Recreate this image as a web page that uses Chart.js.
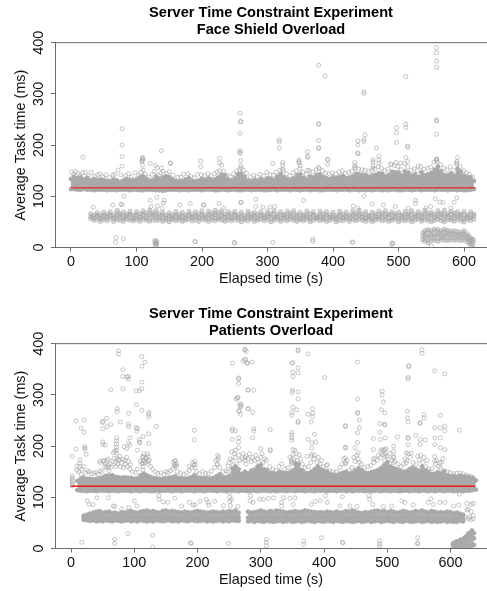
<!DOCTYPE html>
<html><head><meta charset="utf-8">
<style>html,body{margin:0;padding:0;background:#fff}#a,#b{position:absolute;left:0;width:487px;height:290px}#a{top:0}#b{top:301px}</style>
<script src="https://cdn.jsdelivr.net/npm/chart.js@4"></script></head>
<body><div id="a"><canvas id="c1"></canvas></div><div id="b"><canvas id="c2"></canvas></div>
<script>
// Values are estimated by eye. The densest clouds cannot be read point by point, so they are
// stored as band outlines (time, solid top, bottom);
// fringe and isolated points are stored individually.
const yTicks=[0,100,200,300,400];
const xLabel='Elapsed time (s)', yLabel='Average Task time (ms)';
const titles1=['Server Time Constraint Experiment','Face Shield Overload'];
const titles2=['Server Time Constraint Experiment','Patients Overload'];
const meanX1=[0,617], meanY1=[116.7,116.7];
const meanX2=[0,639], meanY2=[121.5,121.5];

const time1=[0,5,10,15,20,25,30,35,40,45,50,55,60,65,70,75,80,85,90,95,100,105,110,115,120,125,130,135,140,145,150,155,160,165,170,175,180,185,190,195,200,205,210,215,220,225,230,235,240,245,250,255,260,265,270,275,280,285,290,295,300,305,310,315,320,325,330,335,340,345,350,355,360,365,370,375,380,385,390,395,400,405,410,415,420,425,430,435,440,445,450,455,460,465,470,475,480,485,490,495,500,505,510,515,520,525,530,535,540,545,550,555,560,565,570,575,580,585,590,595,600,605,610,615];
const hiMid1=[134,138,135,137,133,136,131,134,132,133,132,130,129,133,131,128,131,134,132,131,133,137,139,134,130,132,138,134,137,139,137,133,130,129,130,133,135,130,129,131,134,132,135,132,133,137,142,141,133,130,135,143,144,138,131,129,132,130,134,131,135,134,132,138,143,137,134,132,135,141,143,136,133,139,137,142,143,138,135,134,137,135,138,140,135,137,139,144,143,142,141,138,141,142,145,144,139,142,148,147,146,141,149,146,140,143,138,147,141,143,146,152,158,149,142,141,145,140,154,148,140,137,137,130];
const hiBot1=[114,114,113,113,114,113,113,112,113,113,113,112,113,113,112,113,113,113,112,113,113,112,112,113,113,113,112,112,111,112,113,113,113,112,113,113,112,113,113,113,112,113,113,113,112,112,113,113,112,113,113,112,112,113,113,112,113,113,113,112,112,113,113,112,113,113,113,112,113,113,112,113,113,112,113,113,112,112,113,113,113,112,113,113,113,112,113,113,112,113,112,113,112,113,113,112,113,112,113,113,112,112,113,113,112,113,113,112,113,113,113,112,113,113,113,112,113,113,112,113,112,112,113,114];
const lowTime1=[30,35,40,45,50,55,60,65,70,75,80,85,90,95,100,105,110,115,120,125,130,135,140,145,150,155,160,165,170,175,180,185,190,195,200,205,210,215,220,225,230,235,240,245,250,255,260,265,270,275,280,285,290,295,300,305,310,315,320,325,330,335,340,345,350,355,360,365,370,375,380,385,390,395,400,405,410,415,420,425,430,435,440,445,450,455,460,465,470,475,480,485,490,495,500,505,510,515,520,525,530,535,540,545,550,555,560,565,570,575,580,585,590,595,600,605,610,615];
const loTop1=[66,63,68,64,69,65,70,64,71,66,69,65,71,64,70,66,72,67,73,68,72,66,69,63,68,64,70,65,69,64,71,65,70,66,72,64,71,67,73,68,72,65,70,66,71,64,69,63,71,66,69,65,70,64,71,66,72,65,70,64,71,67,72,65,69,64,71,66,70,63,71,66,70,64,69,63,71,65,69,64,72,67,73,66,70,63,69,65,71,67,72,65,70,66,69,64,71,66,72,65,70,66,73,67,69,65,72,67,73,66,71,67,70,65,71,64,70,65];
const loMid1=[60,58,62,56,61,59,63,57,61,63,58,61,64,57,62,59,63,58,62,64,61,58,62,57,60,56,62,58,61,57,63,59,61,58,63,57,62,59,64,58,62,59,61,57,63,58,60,56,62,59,61,57,63,58,60,62,58,61,57,63,59,62,58,61,56,62,60,57,63,58,61,57,62,59,60,56,62,58,60,57,63,59,64,60,58,62,56,61,59,63,60,64,58,61,57,62,59,63,57,61,62,58,64,60,63,59,61,64,60,63,58,62,60,63,57,61,58,62];
const loBot1=[56,53,55,51,54,52,56,51,54,53,51,55,53,52,54,51,55,53,51,54,52,54,51,53,50,55,52,54,51,53,55,52,54,51,55,53,51,54,52,55,53,51,54,52,55,53,50,54,52,55,51,53,55,52,54,50,53,55,51,54,52,55,53,51,54,52,55,50,53,55,52,54,51,53,55,50,53,52,55,51,54,52,55,53,51,54,50,53,55,52,54,51,53,55,50,53,52,54,50,53,55,51,54,52,50,53,55,52,50,54,53,51,55,52,50,54,53,55];
const clusterTime1=[537,540,545,550,555,560,565,570,575,580,585,590,595,600,605,608,611,614];
const clTop1=[29,33,35,33,36,35,33,36,34,32,33,31,30,33,27,22,18,16];
const clMid1=[22,24,21,25,23,26,22,24,26,23,25,22,24,23,19,15,14,12];
const clBot1=[15,12,9,13,14,12,15,14,13,15,14,15,13,14,11,7,5,6];
const fringe1=[[1,147],[4,143],[7,148],[11,145],[14,141],[18,146],[22,147],[26,140],[31,147],[36,139],[41,142],[44,144],[49,138],[53,142],[59,137],[64,141],[67,143],[72,151],[76,142],[83,140],[88,144],[92,138],[98,146],[103,141],[107,147],[113,143],[118,138],[124,143],[127,148],[133,141],[137,146],[141,149],[146,144],[150,148],[156,141],[163,137],[168,138],[172,143],[178,144],[183,139],[188,136],[193,143],[199,142],[204,140],[209,144],[214,140],[219,144],[223,147],[227,150],[233,149],[238,141],[243,138],[248,144],[253,149],[257,152],[263,151],[268,145],[274,138],[279,141],[284,138],[289,143],[294,140],[299,147],[304,142],[309,141],[313,147],[319,151],[324,150],[329,144],[334,140],[339,146],[344,150],[349,154],[354,147],[359,143],[364,150],[369,148],[374,152],[379,154],[384,150],[389,145],[394,144],[399,146],[404,144],[409,148],[414,150],[419,145],[424,147],[429,149],[434,156],[439,153],[444,152],[449,151],[454,149],[459,151],[464,153],[469,158],[474,155],[479,150],[484,153],[489,162],[494,160],[499,158],[504,152],[509,164],[514,158],[519,150],[524,154],[529,150],[534,158],[539,153],[544,155],[549,157],[554,167],[559,168],[564,162],[569,155],[574,152],[579,158],[584,150],[589,163],[594,158],[599,150],[604,146],[608,143],[613,138]];
const points1=[[18,176],[78,232],[78,200],[78,178],[78,159],[109,176],[109,174],[110,172],[109,170],[108,168],[109,161],[110,151],[121,164],[129,160],[132,156],[138,189],[138,155],[152,165],[152,164],[198,169],[198,158],[227,174],[227,165],[230,161],[258,262],[259,247],[259,245],[258,223],[258,189],[258,186],[258,184],[259,170],[259,160],[260,155],[308,164],[318,210],[318,206],[318,194],[323,166],[323,161],[323,153],[348,171],[348,168],[348,165],[350,160],[361,187],[361,178],[361,176],[361,151],[378,356],[388,335],[378,242],[378,240],[378,209],[378,195],[378,193],[378,156],[392,172],[392,171],[392,162],[447,304],[447,301],[438,208],[438,200],[438,185],[438,183],[447,211],[447,207],[449,220],[433,166],[433,160],[433,155],[466,194],[461,171],[461,167],[461,160],[461,155],[470,178],[470,171],[470,165],[488,163],[496,166],[497,234],[497,224],[497,205],[511,241],[511,234],[511,334],[514,198],[514,196],[503,165],[511,176],[514,168],[558,390],[558,380],[558,364],[558,352],[558,249],[558,247],[558,221],[558,173],[558,172],[558,171],[590,176],[589,168],[588,165],[530,159],
[68,10],[69,19],[80,17],[81,100],[142,92],[121,92],[131,98],[141,87],[34,79],[64,83],[76,84],[78,84],[71,73],[122,80],[132,81],[139,77],[166,83],[182,86],[202,83],[203,83],[226,86],[233,77],[259,88],[447,100],[260,88],[282,94],[282,80],[293,79],[304,79],[311,80],[355,92],[431,81],[438,77],[460,85],[477,83],[495,80],[526,92],[526,86],[515,77],[556,95],[563,89],[568,88],[589,97],[585,88],[542,77],[549,80],[580,77],
[128,14],[129,12],[130,10],[128,9],[131,7],[129,6],[130,4],[131,12],[129,3],[189,12],[190,11],[249,10],[250,9],[308,10],[369,16],[369,12],[429,11],[430,10],[490,9],[491,8],[490,6],[550,3]];

const time2=[10,15,20,25,30,35,40,45,50,55,60,65,70,75,80,85,90,95,100,105,110,115,120,125,130,135,140,145,150,155,160,165,170,175,180,185,190,195,200,205,210,215,220,225,230,235,240,245,250,255,260,265,270,275,280,285,290,295,300,305,310,315,320,325,330,335,340,345,350,355,360,365,370,375,380,385,390,395,400,405,410,415,420,425,430,435,440,445,450,455,460,465,470,475,480,485,490,495,500,505,510,515,520,525,530,535,540,545,550,555,560,565,570,575,580,585,590,595,600,605,610,615,620,625,630,635,640];
const hiMid2=[132,136,138,136,136,135,136,137,139,142,142,143,140,139,138,139,138,138,136,137,143,146,143,140,138,137,136,136,137,138,139,141,137,137,136,137,139,143,138,137,138,137,137,138,141,145,140,139,141,156,160,155,146,150,147,152,154,160,163,155,153,148,147,146,150,148,147,148,152,166,165,153,148,147,150,155,160,155,152,151,145,144,143,146,148,150,146,148,153,157,153,148,147,149,151,153,157,163,168,160,157,155,152,150,151,155,158,155,152,160,153,150,145,146,149,147,150,143,141,141,140,142,141,140,139,137,133];
const hiBot2=[114,113,113,112,113,113,112,113,113,113,112,113,113,112,113,113,113,112,113,113,112,113,113,112,112,113,112,113,113,113,112,113,113,112,113,113,113,112,113,113,112,113,113,113,112,113,113,112,113,113,113,112,113,113,112,113,113,112,113,113,113,112,113,112,113,113,112,113,113,112,113,113,112,113,113,112,113,113,113,112,113,113,112,113,113,112,113,112,113,113,113,112,113,112,113,113,112,113,113,112,113,113,112,113,113,112,113,113,112,113,113,112,113,112,113,113,112,113,113,112,113,113,112,113,113,114,115];
const lowTime2=[20,25,30,35,40,45,50,55,60,65,70,75,80,85,90,95,100,105,110,115,120,125,130,135,140,145,150,155,160,165,170,175,180,185,190,195,200,205,210,215,220,225,230,235,240,245,250,255,260,265,270,275,280,285,290,295,300,305,310,315,320,325,330,335,340,345,350,355,360,365,370,375,380,385,390,395,400,405,410,415,420,425,430,435,440,445,450,455,460,465,470,475,480,485,490,495,500,505,510,515,520,525,530,535,540,545,550,555,560,565,570,575,580,585,590,595,600,605,610,615,620];
const loTop2=[64,66,68,70,72,73,70,71,72,69,70,68,71,70,72,73,71,70,72,73,74,72,73,71,70,73,74,72,73,72,71,70,72,71,70,72,73,72,71,70,71,72,71,70,72,71,73,72,74,70,null,null,72,70,71,72,74,72,71,73,72,74,73,72,70,71,72,73,71,72,74,73,72,71,70,71,70,72,71,70,72,70,71,73,72,74,72,70,69,71,70,72,73,74,72,73,71,73,72,70,71,73,72,70,71,73,72,74,72,71,73,72,70,71,70,72,71,69,70,68,66];
const loMid2=[60,62,59,61,63,60,62,59,61,60,62,59,61,60,62,61,59,61,60,62,59,61,62,60,59,61,63,60,62,61,59,60,62,60,61,59,60,62,61,60,59,61,62,60,59,61,62,60,62,61,null,null,60,62,59,61,60,62,59,61,60,62,61,59,62,60,61,59,60,62,61,59,60,62,61,59,61,60,62,59,60,61,62,60,59,61,60,59,61,62,60,59,62,60,61,59,62,60,61,59,60,62,59,61,60,62,59,61,60,62,59,61,60,58,60,59,57,60,58,60,59];
const loBot2=[56,55,54,55,53,54,53,55,54,53,55,54,53,54,55,53,54,53,55,54,53,54,53,55,54,53,54,55,53,54,53,55,54,53,55,54,53,54,55,53,54,53,54,55,53,54,53,55,54,54,null,null,53,54,52,54,53,52,54,53,52,53,54,52,53,54,52,53,54,52,53,54,53,52,54,53,52,54,53,52,54,53,52,54,53,52,53,54,52,53,54,52,53,54,52,53,54,53,52,54,53,52,54,53,52,53,54,52,53,54,52,53,52,53,54,52,53,52,52,54,53];
const clusterTime2=[604,607,610,613,616,619,622,625,628,631,634,637];
const clTop2=[10,12,14,14,17,17,21,24,29,31,35,30];
const clMid2=[8,9,9,10,11,12,13,15,17,19,22,20];
const clBot2=[5,6,5,6,5,6,5,6,5,6,6,7];
const fringe2=[[12,150],[14,160],[17,155],[20,160],[23,148],[26,152],[29,150],[32,146],[36,147],[40,148],[43,145],[46,152],[49,150],[53,160],[56,158],[59,162],[62,165],[66,170],[70,168],[73,176],[76,172],[78,160],[83,158],[86,165],[89,160],[93,155],[97,150],[102,148],[105,155],[110,170],[113,178],[116,172],[119,176],[122,165],[126,160],[129,155],[133,150],[137,147],[142,148],[147,145],[150,150],[153,148],[157,152],[161,156],[164,160],[168,150],[173,147],[178,145],[183,148],[187,152],[191,158],[194,163],[198,150],[203,146],[208,150],[213,147],[217,146],[222,151],[227,158],[231,165],[235,158],[240,150],[245,152],[250,168],[255,172],[260,178],[265,182],[270,175],[275,172],[280,176],[285,170],[290,172],[295,175],[300,178],[304,168],[309,172],[314,160],[319,155],[324,152],[329,160],[333,165],[338,155],[343,158],[348,170],[352,175],[356,185],[361,183],[366,165],[370,158],[375,160],[379,168],[384,175],[389,168],[394,165],[399,160],[404,162],[409,152],[414,150],[420,150],[425,158],[429,165],[434,165],[439,152],[444,158],[449,170],[454,175],[459,165],[464,158],[469,160],[474,162],[479,168],[484,172],[489,178],[493,183],[497,185],[502,175],[507,172],[512,170],[517,165],[522,160],[526,165],[531,172],[536,178],[541,168],[546,165],[551,173],[556,168],[561,160],[566,155],[571,156],[576,165],[581,160],[586,168],[590,152],[595,150],[600,148],[605,146],[610,147],[615,148],[620,146],[626,143],[632,141],[636,138],
[52,170],[54,166],[57,172],[60,152],[68,176],[71,160],[74,165],[77,180],[80,168],[85,172],[88,178],[91,170],[112,165],[115,185],[118,168],[121,185],[124,172],[162,168],[165,172],[167,165],[192,168],[196,158],[229,172],[233,178],[252,175],[256,162],[258,185],[262,165],[267,172],[272,185],[277,165],[282,185],[287,178],[292,182],[297,168],[302,185],[306,175],[346,178],[349,165],[354,192],[358,172],[363,175],[380,180],[385,182],[391,178],[396,172],[431,175],[436,172],[447,178],[452,182],[456,168],[480,176],[486,182],[490,190],[494,192],[498,195],[500,180],[504,186],[510,180],[528,175],[533,185],[538,186],[548,180],[553,182],[558,178],[563,172],[578,172],[583,168],[588,176]];
const points2=[[2,180],[8,249],[8,194],[2,142],[2,138],[2,134],[2,130],[2,126],[2,122],[21,251],[16,235],[21,227],[22,199],[22,196],[22,194],[24,184],[14,173],[14,166],[9,161],[9,153],[16,145],
[63,310],[75,386],[75,380],[82,349],[82,336],[88,335],[91,331],[91,336],[82,312],[73,268],[73,273],[91,264],[78,247],[91,243],[91,238],[63,242],[56,254],[50,248],[50,246],[50,234],[57,238],[103,308],[108,308],[112,312],[112,325],[112,356],[112,375],[117,364],[103,281],[112,270],[123,266],[123,262],[123,257],[135,238],[103,236],[105,234],[104,229],[123,224],[114,219],[108,213],[108,208],[123,205],[109,206],[105,192],[50,208],[50,203],[54,202],[72,216],[72,210],[72,204],[72,198],[72,192],[72,186],[67,187],[69,190],[84,199],[88,195],[93,216],[91,206],[93,202],[46,171],[46,168],[59,175],[59,158],[64,159],[52,172],[75,174],[82,174],[94,164],[114,180],[118,177],[122,180],[114,172],[122,170],[114,167],[114,160],[114,153],
[195,231],[195,212],[196,170],[196,164],[187,160],[164,171],[164,164],[167,161],[232,182],[232,174],[232,164],[255,362],[261,292],[263,294],[264,295],[265,333],[265,322],[265,331],[267,283],[267,278],[265,269],[266,268],[268,262],[275,388],[277,385],[272,366],[276,369],[278,362],[280,310],[280,273],[255,234],[255,230],[260,230],[255,213],[265,216],[265,208],[254,189],[260,192],[265,197],[275,177],[277,180],[248,161],[248,150],
[17,12],[69,18],[69,10],[90,29],[129,26],[129,3],[189,11],[190,10],[249,10],[41,99],[59,99],[100,93],[26,93],[29,86],[35,86],[67,83],[69,82],[80,77],[91,80],[104,83],[139,103],[139,96],[146,91],[153,90],[164,98],[175,83],[187,90],[193,85],[196,85],[204,92],[214,96],[217,90],[218,85],[227,92],[241,84],[251,109],[251,100],[251,92],[254,96],[252,84],[264,82],
[275,389],[275,369],[279,362],[286,364],[280,309],[289,309],[280,273],[287,266],[269,281],[269,277],[289,234],[289,229],[287,216],[300,195],[315,232],[315,193],[315,191],[349,362],[351,363],[359,388],[359,386],[375,380],[359,353],[359,343],[351,344],[351,336],[350,309],[350,305],[359,306],[359,292],[351,276],[357,271],[349,266],[349,260],[359,248],[359,246],[349,227],[349,222],[349,216],[349,211],[351,193],[351,184],[349,174],[349,168],[382,273],[382,264],[382,258],[375,262],[380,247],[401,334],[385,223],[375,213],[387,208],[381,206],[381,196],[381,184],[373,180],[405,164],[434,240],[434,238],[434,198],[434,196],[434,177],[434,168],[453,364],[453,292],[453,266],[453,264],[456,251],[456,236],[453,226],[453,207],[449,197],[454,187],[478,215],[478,193],[478,174],[492,307],[492,300],[494,286],[491,271],[496,265],[488,244],[496,243],[496,241],[488,227],[497,216],[489,213],[491,193],[496,193],[496,182],[496,172],[510,200],[510,190],[510,178],[510,168],[516,218],[534,357],[534,355],[533,334],[533,331],[532,268],[532,255],[533,247],[533,217],[533,215],[533,203],[530,187],[530,167],[555,388],[555,381],[575,347],[591,341],[558,262],[558,255],[552,246],[552,244],[545,221],[560,212],[552,213],[552,203],[584,260],[575,236],[584,236],[591,239],[591,230],[614,231],[575,216],[584,216],[575,203],[584,197],[591,193],[575,180],[575,171],[584,158],
[309,18],[309,12],[309,5],[368,15],[368,8],[396,21],[429,12],[430,11],[488,15],[488,9],[488,5],[548,21],[548,11],[548,9],
[284,103],[283,93],[288,90],[298,96],[304,96],[312,98],[320,99],[336,99],[333,90],[346,98],[354,99],[351,86],[333,83],[380,86],[386,92],[394,93],[402,103],[405,90],[429,101],[425,83],[441,83],[452,82],[471,103],[472,96],[477,86],[494,82],[507,83],[523,93],[528,90],[541,85],[569,97],[565,90],[573,86],[583,90],[591,90],[605,83],[613,85],[614,106],[626,88],[633,86],[628,77],[636,64],[630,62],[636,88],[626,75],[633,72],[624,60],[628,58],[632,56],[636,58]];

const FONT='"Liberation Sans", Arial, sans-serif';
const GREY='rgba(160,160,160,0.75)';
const LOWG='rgba(165,165,165,0.75)';
const LOWIN='rgba(170,170,170,0.45)';
const solid='#a9a9a9';
const pair=(xs,ys)=>xs.map((x,i)=>({x,y:ys[i]}));
function band(xs,ys,fill,fillColor,order,edge,inside){
  return {type:'line',data:pair(xs,ys),showLine:false,borderWidth:0,borderColor:'transparent',
    fill:fill,backgroundColor:fillColor,pointStyle:'circle',pointRadius:2,pointBorderWidth:0.8,
    pointBorderColor:edge,pointBackgroundColor:inside,order:order,spanGaps:false};
}
const frame={id:'frame',beforeDatasetsDraw(ch){
  const a=ch.chartArea,c=ch.ctx;c.save();c.strokeStyle='#6a6a6a';c.lineWidth=1;
  c.beginPath();c.moveTo(a.left,a.top);c.lineTo(a.right,a.top);c.stroke();c.restore();}};
function make(id,title,xMin,xMax,sets,top,bot){
  return new Chart(document.getElementById(id),{
    data:{datasets:sets},
    plugins:[frame],
    options:{responsive:true,maintainAspectRatio:false,animation:false,
      layout:{padding:0,autoPadding:false},
      plugins:{legend:{display:false},tooltip:{enabled:false},
        title:{display:true,text:title,color:'#000',fullSize:false,
          font:{family:FONT,size:14.6,weight:'bold',lineHeight:1.17},padding:{top:top,bottom:bot}}},
      scales:{
        x:{type:'linear',min:xMin,max:xMax,
          afterFit:s=>{s.height=42.5;s.paddingLeft=0;s.paddingRight=0;},
          grid:{drawOnChartArea:false,tickLength:4,tickColor:'#6a6a6a'},
          border:{color:'#6a6a6a',width:1},
          ticks:{stepSize:100,includeBounds:false,autoSkip:false,maxRotation:0,padding:2,color:'#111',font:{family:FONT,size:14.4}},
          title:{display:true,text:xLabel,color:'#111',font:{family:FONT,size:14.4},padding:{top:0,bottom:2}}},
        y:{type:'linear',min:yTicks[0],max:yTicks[yTicks.length-1],
          afterFit:s=>{s.width=55;s.paddingTop=0;s.paddingBottom=0;},
          grid:{drawOnChartArea:false,tickLength:4,tickColor:'#6a6a6a'},
          border:{color:'#6a6a6a',width:1},
          ticks:{stepSize:100,minRotation:90,maxRotation:90,crossAlign:'center',padding:0,color:'#111',font:{family:FONT,size:14.4},
            callback:v=>yTicks.includes(v)?String(v):''},
          title:{display:true,text:yLabel,color:'#111',font:{family:FONT,size:14.4},padding:{top:12.5,bottom:0}}}
      }}});
}
const mean=(xs,ys,col)=>({type:'line',data:pair(xs,ys),borderColor:col,borderWidth:1.5,pointRadius:0,fill:false,order:0});
const pts=(p)=>({type:'scatter',data:p.map(a=>({x:a[0],y:a[1]})),pointStyle:'circle',pointRadius:2,pointBorderWidth:0.8,pointBorderColor:GREY,pointBackgroundColor:'transparent',order:9});
const sets1=[
  band(time1,hiMid1,'+1',solid,5,solid,solid),
  band(time1,hiBot1,false,'transparent',5,solid,solid),
  band(lowTime1,loTop1,'+2','rgba(170,170,170,0.55)',6,LOWG,LOWIN),
  band(lowTime1,loMid1,false,'transparent',6,LOWG,LOWIN),
  band(lowTime1,loBot1,false,'transparent',6,LOWG,LOWIN),
  band(clusterTime1,clTop1,'+2','rgba(170,170,170,0.65)',6,LOWG,LOWIN),
  band(clusterTime1,clMid1,false,'transparent',6,LOWG,LOWIN),
  band(clusterTime1,clBot1,false,'transparent',6,LOWG,LOWIN),
  pts(fringe1),pts(points1),mean(meanX1,meanY1,'#d8403c')];
const sets2=[
  band(time2,hiMid2,'+1',solid,5,solid,solid),
  band(time2,hiBot2,false,'transparent',5,solid,solid),
  band(lowTime2,loTop2,'+2','rgba(170,170,170,0.9)',6,solid,solid),
  band(lowTime2,loMid2,false,'transparent',6,solid,solid),
  band(lowTime2,loBot2,false,'transparent',6,solid,solid),
  band(clusterTime2,clTop2,'+2','rgba(170,170,170,0.9)',6,solid,solid),
  band(clusterTime2,clMid2,false,'transparent',6,solid,solid),
  band(clusterTime2,clBot2,false,'transparent',6,solid,solid),
  pts(fringe2),pts(points2),mean(meanX2,meanY2,'#ee1c1c')];
make('c1',titles1,-24.4,635,sets1,4.5,4);
make('c2',titles2,-25.3,657.7,sets2,4.5,4);
</script></body></html>
